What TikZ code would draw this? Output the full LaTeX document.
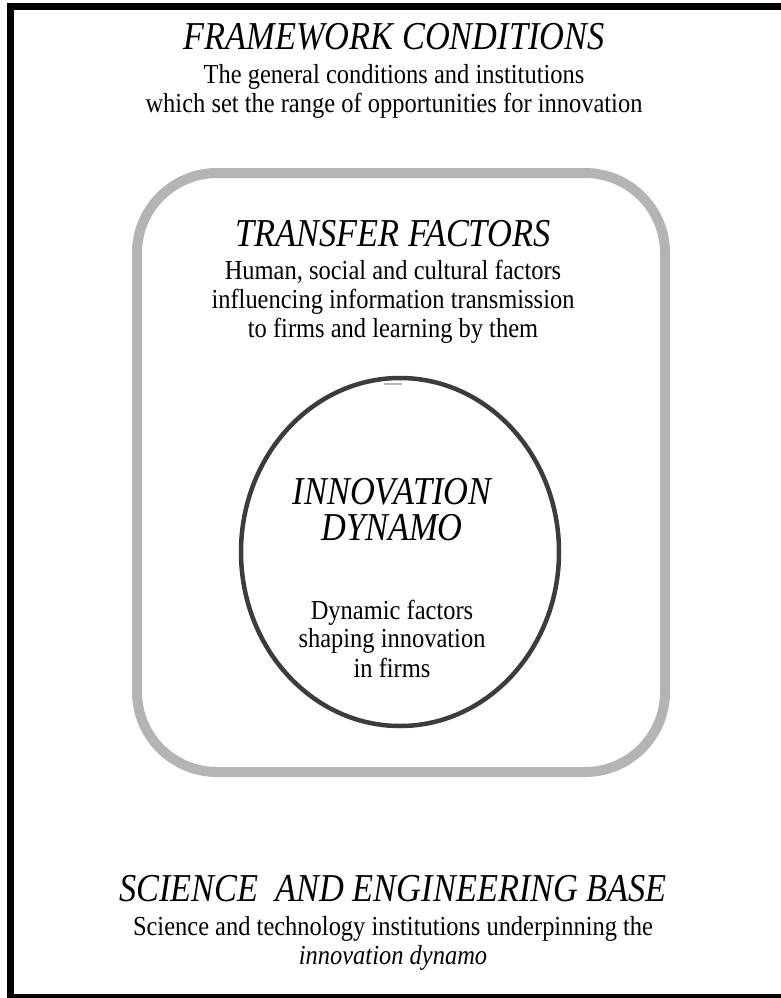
\documentclass[tikz,border=0pt]{standalone}
\usepackage{graphicx}
\usepackage{fontspec}
\setmainfont{Liberation Serif}
\usetikzlibrary{shapes.geometric}
\definecolor{framegray}{RGB}{180,180,180}
\definecolor{ovalgray}{RGB}{60,60,60}
\newcommand{\cond}[1]{\scalebox{0.87}[1]{#1}}
\newcommand{\bcond}[1]{\scalebox{0.89}[1]{#1}}
\begin{document}
\begin{tikzpicture}[x=1pt,y=-1pt,
  title/.style={anchor=base,inner sep=0pt,font=\fontsize{39.5}{44}\selectfont\itshape},
  body/.style={anchor=base,inner sep=0pt,font=\fontsize{27.5}{32}\selectfont},
  outerframe/.style={draw=black,line width=7pt},
  transferbox/.style={draw=framegray,line width=10pt,rounded corners=80pt},
  dynamo/.style={draw=ovalgray,line width=4.5pt}]
\useasboundingbox (0,0) rectangle (780,998);
\draw[outerframe] (10.5,7) rectangle (790,997);
\draw[transferbox] (137,173) rectangle (665,772);
\draw[dynamo] (400,552) ellipse [x radius=159, y radius=174];
\draw[framegray,line width=2pt] (384,384) -- (402,384);
\node[title] (fc) at (394,50) {\cond{FRAMEWORK CONDITIONS}};
\node[body] (fc1) at (394,83) {\bcond{The general conditions and institutions}};
\node[body] (fc2) at (394,112) {\bcond{which set the range of opportunities for innovation}};
\node[title] (tf) at (393,246) {\cond{TRANSFER FACTORS}};
\node[body] (tf1) at (393,279) {\bcond{Human, social and cultural factors}};
\node[body] (tf2) at (393,308) {\bcond{influencing information transmission}};
\node[body] (tf3) at (393,337) {\bcond{to firms and learning by them}};
\node[title] (id1) at (392,504) {\cond{INNOVATION}};
\node[title] (id2) at (392,540) {\cond{DYNAMO}};
\node[body] (id3) at (392,619) {\bcond{Dynamic factors}};
\node[body] (id4) at (392,647) {\bcond{shaping innovation}};
\node[body] (id5) at (392,677) {\bcond{in firms}};
\node[title] (se) at (393,901) {\cond{SCIENCE\ \ AND ENGINEERING BASE}};
\node[body] (se1) at (393,935) {\bcond{Science and technology institutions underpinning the}};
\node[body] (se2) at (393,964) {\bcond{\itshape innovation dynamo}};
\end{tikzpicture}
\end{document}
